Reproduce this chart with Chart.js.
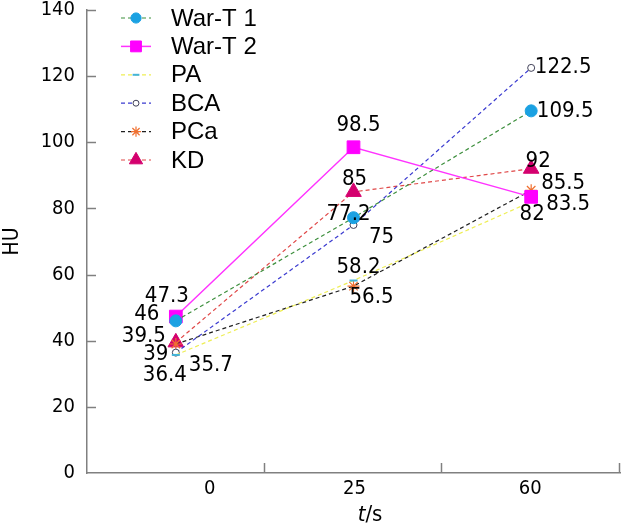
<!DOCTYPE html>
<html>
<head>
<meta charset="utf-8">
<script src="https://cdn.jsdelivr.net/npm/chart.js@4.4.1/dist/chart.umd.min.js"></script>
<style>
html, body { margin: 0; padding: 0; background: #fff; }
#contenedor { width: 630px; height: 531px; }
</style>
</head>
<body>
<div id="contenedor"><canvas id="graficaLineas"></canvas></div>
<script>
// datos
const tiempos = ['0', '25', '60'];
const warT1 = [46, 77.2, 109.5];
const warT2 = [47.3, 98.5, 83.5];
const valoresPA = [35.7, 58.2, 82];
const valoresBCA = [36.4, 75, 122.5];
const valoresPCa = [39, 56.5, 85.5];
const valoresKD = [39.5, 85, 92];
const ticksY = [0, 20, 40, 60, 80, 100, 120, 140];

// desplazamiento de las etiquetas de cada punto (dx, dy)
const posEtiquetas = [
    [[-29, -7], [-5, -3], [34, 0]],
    [[-9, -20], [5, -22], [37, 7]],
    [[35, 10], [5, -13], [1, 12]],
    [[-11, 23], [28, 12], [32, -1]],
    [[-20, 10], [18, 11], [32, -7]],
    [[-32, -6], [1, -13], [7, -7]]
];
const desplazaX = [34, 1, -1]; // etiquetas del eje x

const fuente = "'DejaVu Sans Condensed', 'Noto Sans', sans-serif";

const series = [
    { label: 'War-T 1', data: warT1, borderColor: '#3d8f3d', borderDash: [4, 3], borderWidth: 1.2,
      pointStyle: 'circle', pointRadius: 6, pointBackgroundColor: '#1ba1e2', pointBorderColor: '#1ba1e2', pointBorderWidth: 1 },
    { label: 'War-T 2', data: warT2, borderColor: '#ff33ff', borderDash: [], borderWidth: 1.5,
      pointStyle: 'rect', pointRadius: 9, pointBackgroundColor: '#ff00ff', pointBorderColor: '#ff00ff', pointBorderWidth: 1 },
    { label: 'PA', data: valoresPA, borderColor: '#eeee55', borderDash: [4, 3], borderWidth: 1.2,
      pointStyle: 'line', pointRadius: 4, pointBackgroundColor: '#44b4d8', pointBorderColor: '#44b4d8', pointBorderWidth: 2 },
    { label: 'BCA', data: valoresBCA, borderColor: '#3b3bd0', borderDash: [4, 3], borderWidth: 1.2,
      pointStyle: 'circle', pointRadius: 3.5, pointBackgroundColor: '#ffffff', pointBorderColor: '#404058', pointBorderWidth: 1 },
    { label: 'PCa', data: valoresPCa, borderColor: '#202020', borderDash: [4, 3], borderWidth: 1.2,
      pointStyle: 'star', pointRadius: 6, pointBackgroundColor: '#f07030', pointBorderColor: '#f07030', pointBorderWidth: 1.2 },
    { label: 'KD', data: valoresKD, borderColor: '#e04848', borderDash: [4, 3], borderWidth: 1.2,
      pointStyle: 'triangle', pointRadius: 9, pointBackgroundColor: '#d4006e', pointBorderColor: '#d4006e', pointBorderWidth: 1 }
];

const dibujoExtra = {
    id: 'dibujoExtra',
    afterDraw(chart) {
        const ctx = chart.ctx;
        const area = chart.chartArea;
        const x = chart.scales.x;
        const y = chart.scales.y;
        ctx.save();

        // marcas hacia dentro
        ctx.strokeStyle = '#808080';
        ctx.lineWidth = 1.5;
        ticksY.forEach(v => {
            if (v === 0) return;
            const py = Math.round(y.getPixelForValue(v)) + 0.5;
            ctx.beginPath();
            ctx.moveTo(area.left, py);
            ctx.lineTo(area.left + 9, py);
            ctx.stroke();
        });
        for (let i = 1; i <= tiempos.length; i++) {
            const px = Math.round(x.getPixelForValue(i - 0.5)) - 0.5;
            ctx.beginPath();
            ctx.moveTo(px, area.bottom);
            ctx.lineTo(px, area.bottom - 10);
            ctx.stroke();
        }

        // etiquetas del eje x
        ctx.fillStyle = '#000';
        ctx.font = '20px ' + fuente;
        ctx.textAlign = 'center';
        ctx.textBaseline = 'middle';
        tiempos.forEach((t, i) => {
            ctx.fillText(t, x.getPixelForValue(i) + desplazaX[i], area.bottom + 16);
        });

        // titulo del eje x: t/s
        ctx.textAlign = 'left';
        ctx.font = 'italic 22px ' + fuente;
        const anchoT = ctx.measureText('t').width;
        ctx.font = '22px ' + fuente;
        const anchoS = ctx.measureText('/s').width;
        const inicio = 370 - (anchoT + anchoS) / 2;
        ctx.font = 'italic 22px ' + fuente;
        ctx.fillText('t', inicio, area.bottom + 42);
        ctx.font = '22px ' + fuente;
        ctx.fillText('/s', inicio + anchoT, area.bottom + 42);

        // etiquetas de los datos
        ctx.font = '22px ' + fuente;
        ctx.textAlign = 'center';
        chart.data.datasets.forEach((ds, d) => {
            const meta = chart.getDatasetMeta(d);
            meta.data.forEach((pt, i) => {
                const [dx, dy] = posEtiquetas[d][i];
                ctx.fillText(String(ds.data[i]), pt.x + dx, pt.y + dy);
            });
        });

        // leyenda
        chart.data.datasets.forEach((ds, d) => {
            const ly = 18 + d * 28.4;
            ctx.strokeStyle = ds.borderColor;
            ctx.lineWidth = ds.borderWidth;
            ctx.setLineDash(ds.borderDash.length ? ds.borderDash : []);
            ctx.beginPath();
            ctx.moveTo(121, ly);
            ctx.lineTo(151, ly);
            ctx.stroke();
            ctx.setLineDash([]);
            ctx.fillStyle = ds.pointBackgroundColor;
            ctx.strokeStyle = ds.pointBorderColor;
            ctx.lineWidth = ds.pointBorderWidth;
            Chart.helpers.drawPoint(ctx, {
                pointStyle: ds.pointStyle, radius: ds.pointRadius * 0.85, rotation: 0, borderWidth: ds.pointBorderWidth
            }, 136, ly);
            ctx.fillStyle = '#000';
            ctx.font = "24px 'Liberation Sans', Arial, sans-serif";
            ctx.textAlign = 'left';
            ctx.fillText(ds.label, 171, ly + 1);
        });
        ctx.restore();
    }
};

const ctx = document.getElementById('graficaLineas').getContext('2d');
const grafica = new Chart(ctx, {
    type: 'line',
    data: {
        labels: tiempos,
        datasets: series.map(s => Object.assign({ fill: false, tension: 0 }, s))
    },
    options: {
        responsive: true,
        maintainAspectRatio: false,
        devicePixelRatio: 1,
        animation: false,
        layout: { padding: { top: 7, right: 4, left: 0, bottom: 0 } },
        plugins: {
            legend: { display: false },
            tooltip: { enabled: false }
        },
        scales: {
            x: {
                type: 'category',
                offset: true,
                afterFit: s => { s.height = 58; s.paddingLeft = 0; s.paddingRight = 0; },
                grid: { drawOnChartArea: false, drawTicks: false, offset: true },
                border: { color: '#808080', width: 1.5 },
                ticks: { display: false }
            },
            y: {
                min: 0,
                max: 140,
                afterFit: s => { s.width = 87; s.paddingTop = 0; s.paddingBottom = 0; },
                afterBuildTicks: s => { s.ticks = ticksY.map(v => ({ value: v })); },
                grid: { drawOnChartArea: false, drawTicks: false },
                border: { color: '#808080', width: 1.5 },
                ticks: { color: '#000', padding: 12, font: { family: fuente, size: 20 } },
                title: { display: true, text: 'HU', color: '#000', padding: { top: 0, bottom: 0 }, font: { family: fuente, size: 21 } }
            }
        }
    },
    plugins: [dibujoExtra]
});
</script>
</body>
</html>
